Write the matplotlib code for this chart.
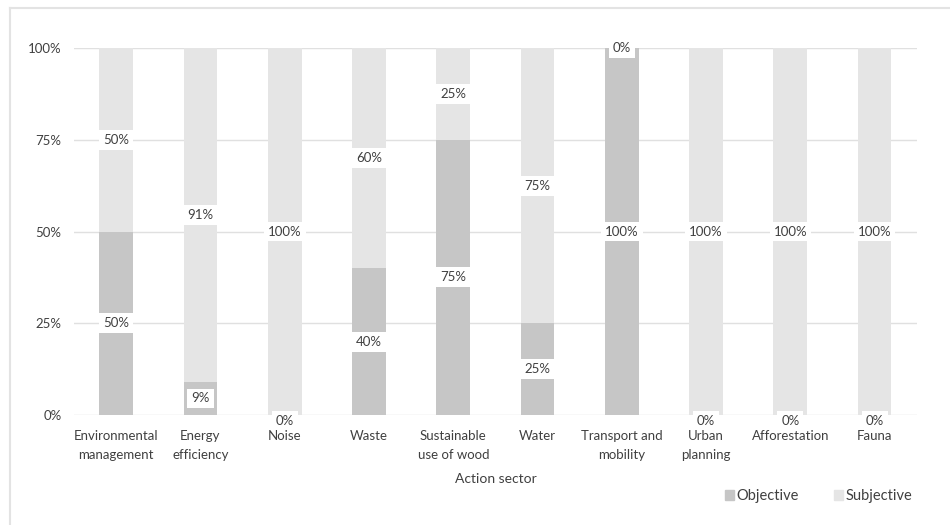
import matplotlib
matplotlib.use("Agg")
import matplotlib.pyplot as plt
from matplotlib.lines import Line2D
from matplotlib.patches import Patch
import numpy as np

plt.rcParams['font.family'] = ['Lato', 'DejaVu Sans']

# Data
sectors = ["Environmental\nmanagement", "Energy\nefficiency", "Noise", "Waste",
           "Sustainable\nuse of wood", "Water", "Transport and\nmobility",
           "Urban\nplanning", "Afforestation", "Fauna"]
objective = [50, 9, 0, 40, 75, 25, 100, 0, 0, 0]
subjective = [50, 91, 100, 60, 25, 75, 0, 100, 100, 100]
ytick_labels = ["0%", "25%", "50%", "75%", "100%"]

OBJ_COLOR = "#c6c6c6"
SUBJ_COLOR = "#e5e5e5"
TEXT_COLOR = "#404040"
GRID_COLOR = "#e0e0e0"

fig = plt.figure(figsize=(9.5, 5.25), dpi=100)
ax = fig.add_axes([0.078, 0.2095, 0.887, 0.699])

x = np.arange(len(sectors))
obj = np.array(objective)
subj = np.array(subjective)

ax.bar(x, obj, width=0.4, color=OBJ_COLOR, label="Objective", zorder=2)
ax.bar(x, subj, width=0.4, bottom=obj, color=SUBJ_COLOR, label="Subjective", zorder=2)

# data labels at segment centres, white boxes like Excel
for i in range(len(sectors)):
    y_obj = obj[i] / 2 if obj[i] > 0 else -1.5
    ax.text(x[i], y_obj, f"{obj[i]}%", ha="center", va="center",
            fontsize=9.5, color=TEXT_COLOR, zorder=4,
            bbox=dict(boxstyle="square,pad=0.3", fc="white", ec="none"))
    ax.text(x[i], obj[i] + subj[i] / 2, f"{subj[i]}%", ha="center", va="center",
            fontsize=9.5, color=TEXT_COLOR, zorder=4,
            bbox=dict(boxstyle="square,pad=0.3", fc="white", ec="none"))

ax.set_xlim(-0.5, len(sectors) - 0.5)
ax.set_ylim(0, 100)
ax.set_yticks([0, 25, 50, 75, 100])
ax.set_yticklabels(ytick_labels)
ax.set_xticks(x)
ax.set_xticklabels(sectors, linespacing=1.65)
ax.yaxis.grid(True, color=GRID_COLOR, linewidth=1, zorder=0)
ax.set_axisbelow(True)
for s in ax.spines.values():
    s.set_visible(False)
ax.tick_params(axis="both", length=0, colors=TEXT_COLOR, labelsize=9.5)
ax.tick_params(axis="y", pad=9)
ax.tick_params(axis="x", pad=11)

ax.set_xlabel("Action sector", fontsize=10, color=TEXT_COLOR, labelpad=9)

handles = [Patch(color=OBJ_COLOR, label="Objective"),
           Patch(color=SUBJ_COLOR, label="Subjective")]
fig.legend(handles=handles, loc="center", bbox_to_anchor=(0.862, 0.055), ncol=2,
           frameon=False, fontsize=10.5, handlelength=0.6, handleheight=0.6,
           handletextpad=0.2, columnspacing=2.4, labelcolor=TEXT_COLOR)

# outer chart frame (left and top edges visible)
fig.add_artist(Line2D([0.0105, 0.0105], [0.0, 0.985], color="#e3e3e3", lw=1.5,
                      transform=fig.transFigure))
fig.add_artist(Line2D([0.0105, 1.0], [0.985, 0.985], color="#e3e3e3", lw=1.5,
                      transform=fig.transFigure))

fig.savefig("out.png", dpi=100, facecolor="white")
